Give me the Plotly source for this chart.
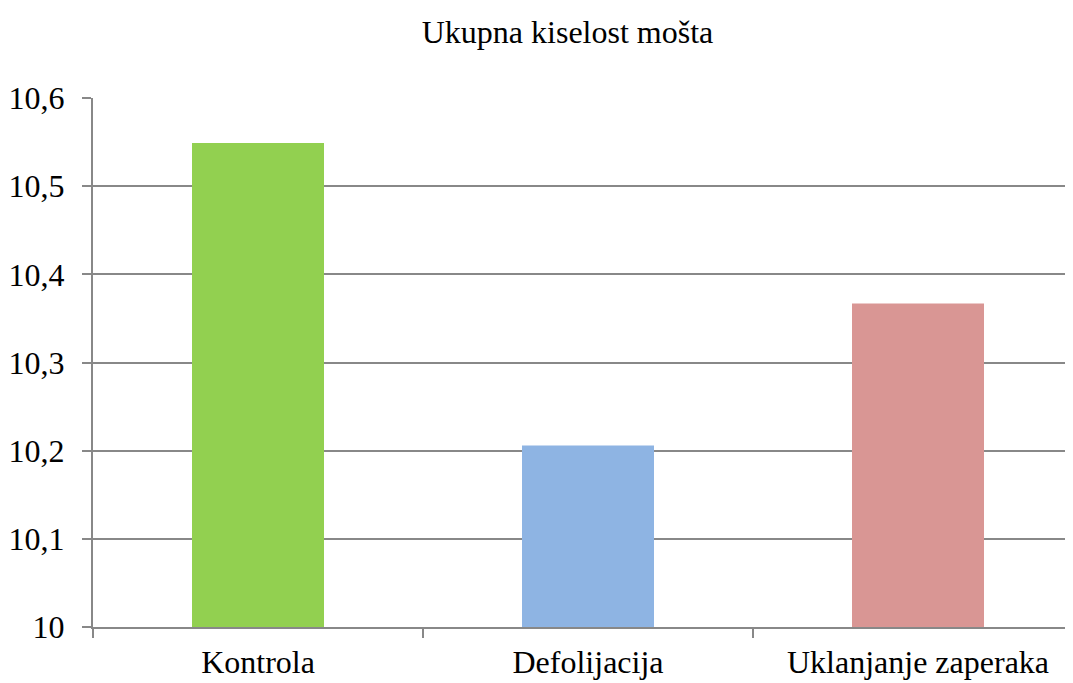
import plotly.graph_objects as go

categories = ["Kontrola", "Defolijacija", "Uklanjanje zaperaka"]
values = [10.549, 10.206, 10.367]
colors = ["#92D050", "#8EB4E3", "#D99694"]
title_text = "Ukupna kiselost mošta"

font_family = "Liberation Serif"
gray = "#888888"

W, H = 1065, 675  # page body has an 8px margin

fig = go.Figure(go.Bar(
    x=categories, y=values, marker=dict(color=colors, line=dict(width=0)),
    width=0.4,
))

fig.update_layout(
    width=W, height=H,
    paper_bgcolor="white", plot_bgcolor="white",
    margin=dict(l=85, r=0, t=90, b=56, autoexpand=False),
    separators=", ",
    showlegend=False,
    font=dict(family=font_family, color="black", size=32),
    title=dict(text=title_text, x=559.5/W, xref="container", xanchor="center",
               y=1-24/H, yref="container", yanchor="middle",
               font=dict(family=font_family, size=32, color="black")),
)

fig.update_xaxes(
    type="category", range=[-0.5, -0.5 + 980/330],
    showline=True, linecolor=gray, linewidth=2,
    ticks="outside", ticklen=9, tickcolor=gray, tickwidth=2,
    tickson="boundaries", showgrid=False, automargin=False,
    tickfont=dict(family=font_family, size=32, color="black"),
    ticklabelstandoff=6,
)
fig.update_yaxes(
    range=[10, 10.6], dtick=0.1, tick0=10,
    showline=True, linecolor=gray, linewidth=2,
    ticks="outside", ticklen=9, tickcolor=gray, tickwidth=2,
    showgrid=True, gridcolor=gray, gridwidth=2,
    zeroline=False, automargin=False,
    tickfont=dict(family=font_family, size=32, color="black"),
    ticklabelstandoff=11,
)

fig.write_html("out.html")
